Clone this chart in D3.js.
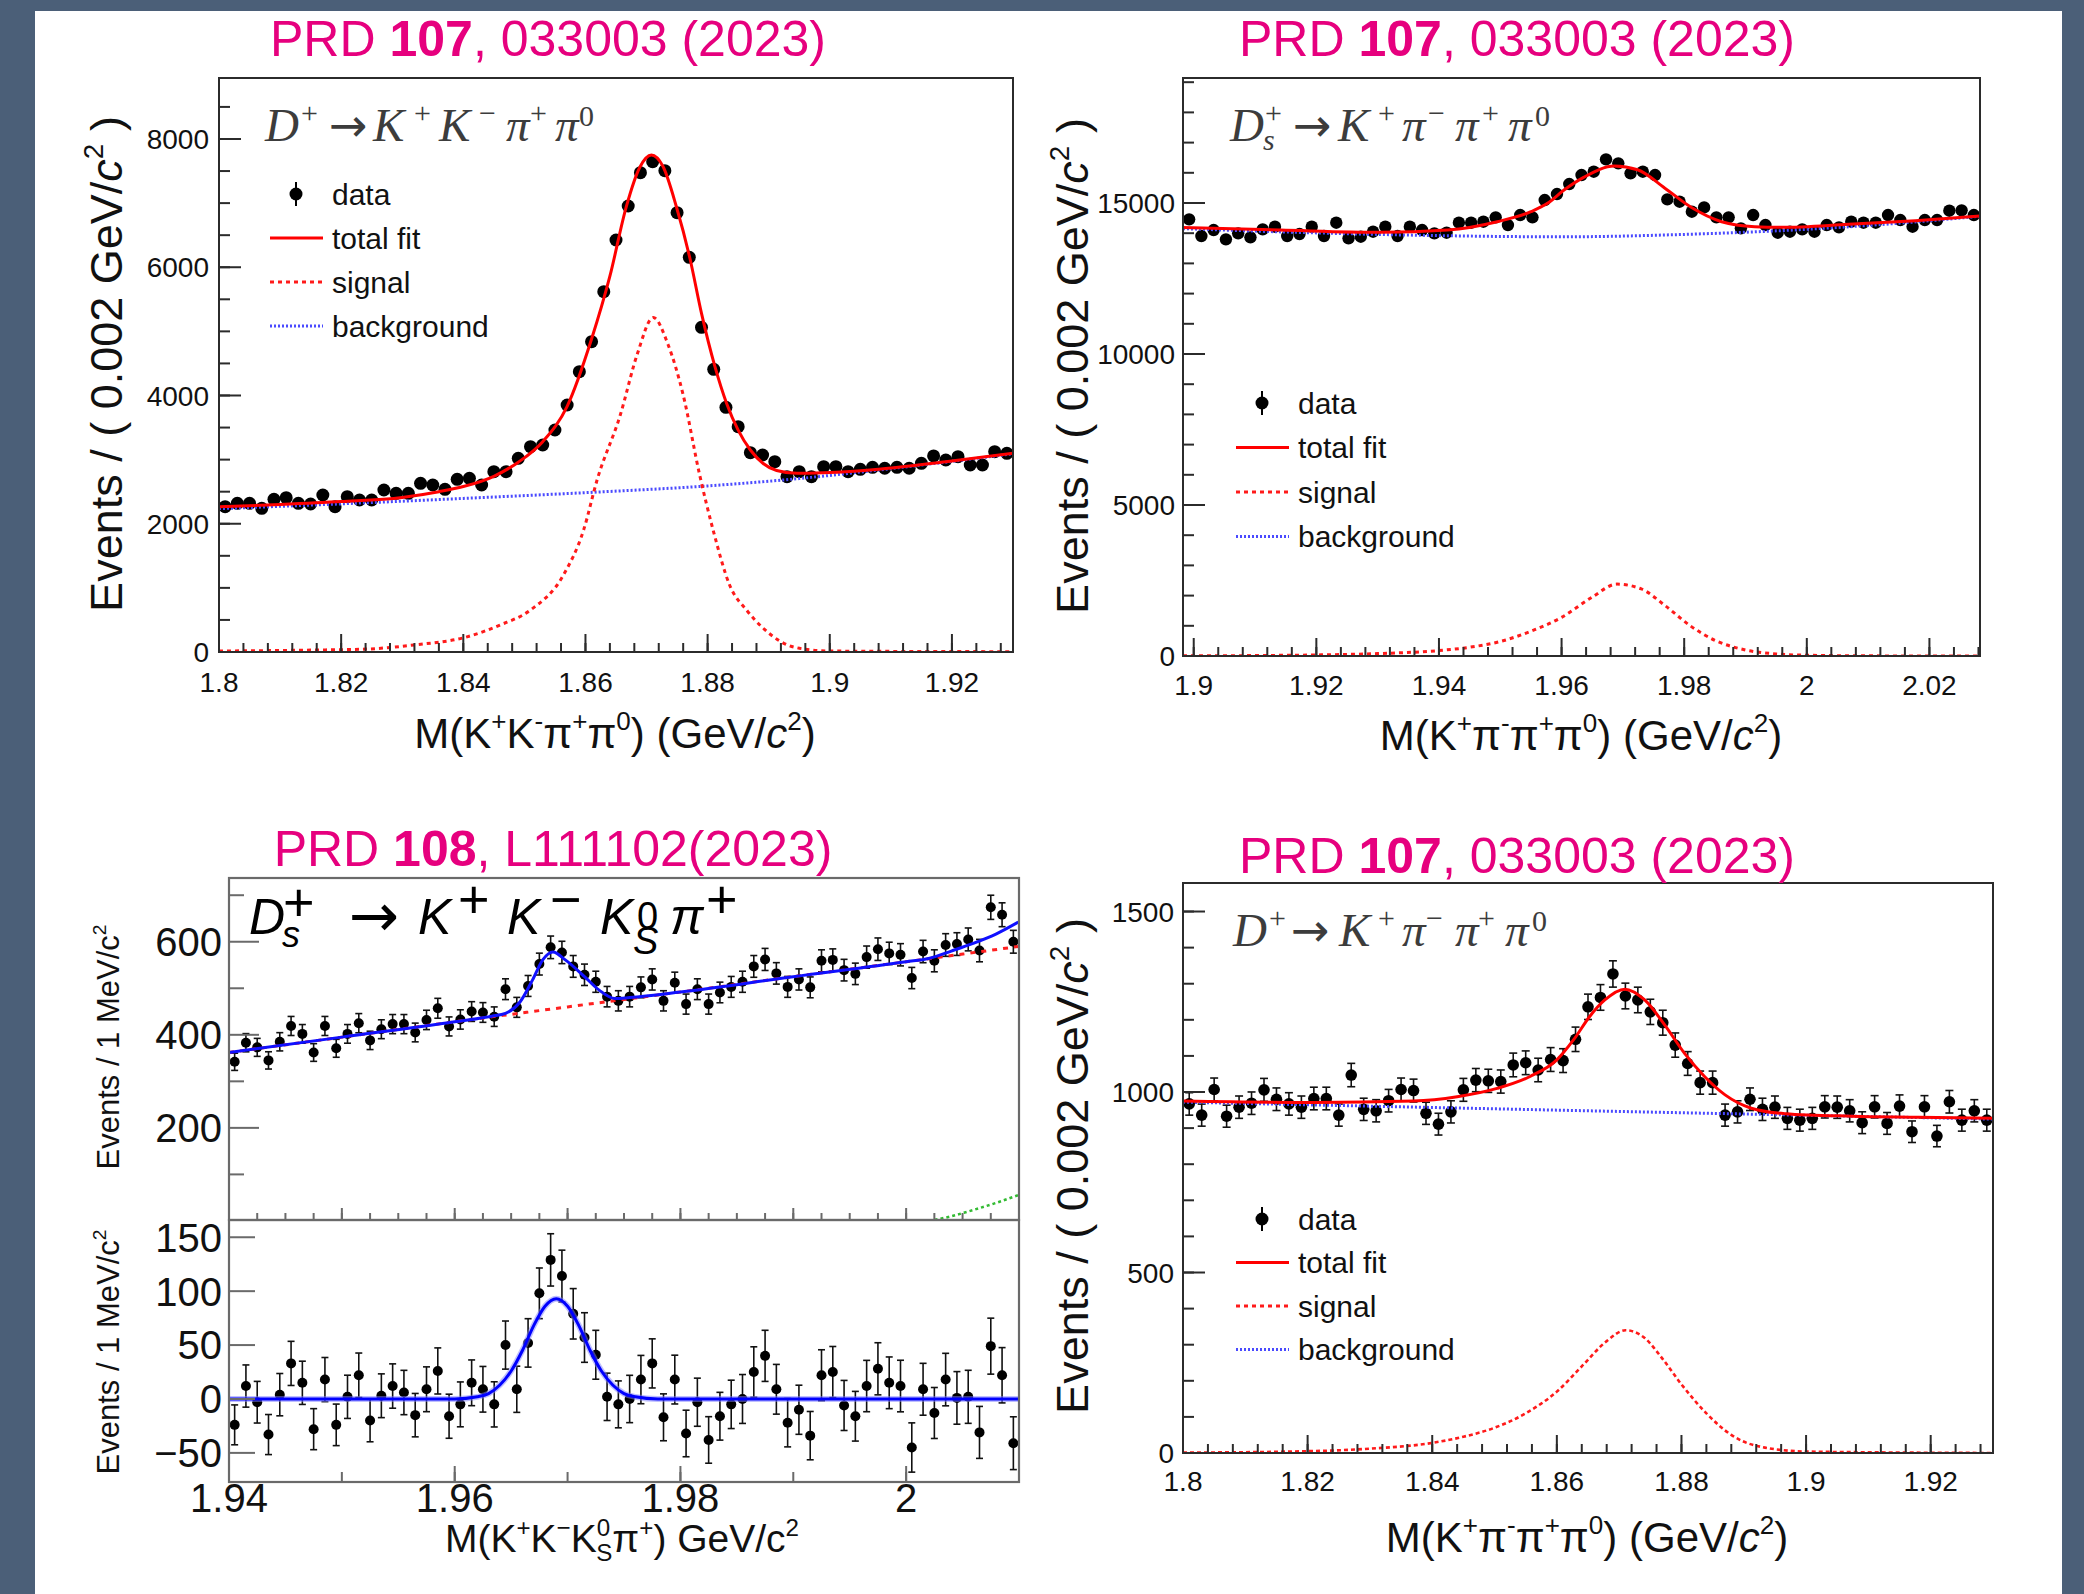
<!DOCTYPE html>
<html>
<head>
<meta charset="utf-8">
<script src="https://cdn.jsdelivr.net/npm/d3@7"></script>
<style>
  body { margin: 0; background: #4b5f78; }
</style>
</head>
<body>
<script>
const W = 2084, H = 1594;
const SANS = "'Liberation Sans', Arial, Helvetica, sans-serif";
const SERIF = "'Liberation Serif', 'Times New Roman', serif";
const ARROW = "'DejaVu Sans', sans-serif";
const PINK = "#e6007e";

// ---------------- DATA ----------------
// top left : D+ -> K+ K- pi+ pi0   (bins of 0.002 GeV from 1.80)
const tlStart = 1.8, tlBin = 0.002;
const tlCounts = [
  2266, 2318, 2318, 2240, 2381, 2407, 2318, 2308, 2448, 2266,
  2422, 2370, 2370, 2526, 2474, 2474, 2630, 2604, 2537, 2693,
  2708, 2604, 2812, 2812, 3020, 3202, 3228, 3462, 3852, 4372,
  4840, 5619, 6425, 6955, 7475, 7646, 7506, 6851, 6155, 5063,
  4408, 3816, 3514, 3108, 3072, 2968, 2734, 2812, 2734, 2890,
  2890, 2812, 2849, 2880, 2865, 2880, 2865, 2942, 3057, 2994,
  3046, 2916, 2916, 3124, 3098
];
const tlTotalFit = [[1.800,2265],[1.810,2300],[1.820,2345],[1.830,2410],[1.836,2500],[1.840,2580],[1.845,2740],[1.849,2960],[1.853,3280],[1.857,3830],[1.861,4880],[1.864,5860],[1.8667,6950],[1.8689,7560],[1.8708,7750],[1.8727,7570],[1.8749,6940],[1.8771,6140],[1.879,5280],[1.8812,4450],[1.8831,3880],[1.885,3460],[1.887,3150],[1.8891,2940],[1.8913,2830],[1.8946,2786],[1.899,2796],[1.908,2850],[1.919,2968],[1.930,3100]];
const tlSignal = [[1.800,15],[1.815,30],[1.824,45],[1.832,110],[1.8402,226],[1.846,420],[1.851,655],[1.8564,1201],[1.8597,1903],[1.8619,2682],[1.8657,3696],[1.8685,4650],[1.8711,5217],[1.8735,4800],[1.876,4008],[1.8787,2760],[1.8809,1903],[1.8836,1045],[1.8865,640],[1.889,380],[1.8944,70],[1.900,15],[1.930,5]];
const tlBackground = [[1.80,2235],[1.82,2310],[1.84,2395],[1.86,2485],[1.88,2590],[1.895,2705],[1.91,2860],[1.93,3090]];
const tlXTicks = [1.8, 1.82, 1.84, 1.86, 1.88, 1.9, 1.92];
const tlYTicks = [0, 2000, 4000, 6000, 8000];

// top right : Ds+ -> K+ pi- pi+ pi0
const trStart = 1.89825, trBin = 0.002;
const trCounts = [
  14458, 13906, 14105, 13796, 13995, 13862, 14127, 14216, 13906, 13972,
  14216, 13906, 14348, 13829, 13884, 14050, 14216, 13906, 14216, 14105,
  13995, 14017, 14348, 14348, 14381, 14524, 14271, 14602, 14524, 15098,
  15297, 15628, 15926, 16036, 16445, 16313, 15981, 16036, 15926, 15120,
  15043, 14712, 14855, 14524, 14524, 14160, 14602, 14271, 14017, 14050,
  14127, 14050, 14271, 14193, 14381, 14348, 14348, 14602, 14436, 14216,
  14436, 14436, 14745, 14756, 14602
];
const trTotalFit = [[1.89825,14190],[1.9141,14105],[1.9305,14028],[1.9414,14105],[1.9495,14381],[1.955,14712],[1.9577,14988],[1.9604,15430],[1.9636,15850],[1.9686,16225],[1.9724,16100],[1.9768,15500],[1.9812,14850],[1.9861,14381],[1.9915,14216],[1.9959,14193],[2.0068,14293],[2.0177,14414],[2.02825,14569]];
const trSignal = [[1.89825,5],[1.91,15],[1.92,35],[1.93,80],[1.94,180],[1.945,290],[1.95,480],[1.955,820],[1.96,1280],[1.965,1950],[1.969,2380],[1.973,2220],[1.977,1650],[1.981,1000],[1.985,520],[1.99,200],[1.995,70],[2.0,25],[2.01,5],[2.02825,0]];
const trBackground = [[1.89825,14150],[1.92,14010],[1.94,13920],[1.96,13880],[1.98,13960],[2.0,14130],[2.015,14330],[2.02825,14560]];
const trXTicks = [1.9, 1.92, 1.94, 1.96, 1.98, 2, 2.02];
const trYTicks = [0, 5000, 10000, 15000];

// bottom right : D+ -> K+ pi- pi+ pi0
const brStart = 1.8, brBin = 0.002;
const brCounts = [
  967, 936, 1007, 933, 958, 969, 1006, 980, 967, 958,
  982, 982, 936, 1047, 952, 948, 976, 1007, 1004, 941,
  911, 945, 1006, 1033, 1031, 1029, 1075, 1081, 1061, 1090,
  1087, 1146, 1236, 1262, 1327, 1266, 1255, 1222, 1192, 1130,
  1079, 1026, 1026, 936, 945, 980, 952, 958, 927, 922,
  927, 959, 958, 948, 915, 959, 913, 961, 890, 959,
  878, 973, 922, 948, 922
];
const brTotalFit = [[1.80,975],[1.8209,971],[1.837,975],[1.844,987],[1.8504,1010],[1.8557,1043],[1.86,1089],[1.8627,1145],[1.8653,1210],[1.8677,1255],[1.8709,1285],[1.8741,1255],[1.8773,1186],[1.8805,1107],[1.8837,1043],[1.887,992],[1.8912,955],[1.8966,940],[1.9073,933],[1.918,930],[1.93,927]];
const brSignal = [[1.80,1],[1.82,5],[1.83,12],[1.84,28],[1.845,45],[1.85,70],[1.855,110],[1.86,170],[1.864,240],[1.868,310],[1.871,340],[1.874,320],[1.877,260],[1.88,190],[1.884,110],[1.888,50],[1.892,20],[1.90,4],[1.93,0]];
const brBackground = [[1.80,972],[1.865,948],[1.93,925]];
const brXTicks = [1.8, 1.82, 1.84, 1.86, 1.88, 1.9, 1.92];
const brYTicks = [0, 500, 1000, 1500];

// bottom left : Ds+ -> K+ K- KS pi+  (1 MeV bins from 1.94)
const blStart = 1.94, blBin = 0.001;
const blCounts = [
  342, 383, 373, 345, 385, 419, 402, 362, 419, 371,
  402, 425, 388, 412, 423, 423, 405, 432, 457, 418,
  433, 450, 448, 439, 498, 459, 505, 552, 588, 577,
  547, 529, 514, 482, 473, 482, 502, 519, 473, 512,
  466, 498, 466, 491, 503, 514, 547, 562, 532, 503,
  519, 502, 559, 561, 539, 531, 567, 584, 575, 572,
  522, 579, 559, 593, 595, 605, 581, 674, 658, 600
];
const blResiduals = [
  -24, 12, -3, -33, 4, 33, 15, -28, 18, -24,
  2, 22, -20, 3, 12, 6, -15, 9, 26, -16,
  -5, 15, 9, -5, 50, 9, 52, 98, 129, 114,
  79, 57, 41, 2, -5, 0, 18, 33, -17, 18,
  -32, -3, -38, -16, -5, 0, 25, 40, 9, -22,
  -10, -34, 22, 25, -6, -16, 12, 28, 15, 12,
  -45, 9, -13, 18, 1, 2, -31, 49, 22, -41
];
const blUpperFit = [[1.94,362],[1.95,395],[1.96,428],[1.9633,440],[1.9645,446],[1.9658,471],[1.9669,518],[1.9678,561],[1.9687,578],[1.9698,561],[1.9715,525],[1.9728,496],[1.9742,478],[1.9755,480],[1.98,492],[1.99,525],[2.0,557],[2.002,564],[2.004,580],[2.006,597],[2.008,617],[2.01,643]];
const blUpperBkg = [[1.94,362],[1.95,395],[1.96,428],[1.97,460],[1.98,492],[1.99,525],[2.0,557],[2.01,590]];
const blPeaking = [[2.002,0],[2.004,10],[2.006,24],[2.008,39],[2.01,56]];
const blLowerFit = [[1.94,0],[1.96,0],[1.962,2],[1.963,5],[1.964,13],[1.965,26],[1.966,45],[1.967,68],[1.968,86],[1.969,93],[1.970,86],[1.971,68],[1.972,45],[1.973,26],[1.974,13],[1.975,5],[1.976,2],[1.978,0],[2.01,0]];
const blXTicks = [1.94, 1.96, 1.98, 2];
const blUpperYTicks = [200, 400, 600];
const blLowerYTicks = [-50, 0, 50, 100, 150];

const titles = [
  { x: 548, y: 56, pre: "PRD ", vol: "107", post: ", 033003 (2023)" },
  { x: 1517, y: 56, pre: "PRD ", vol: "107", post: ", 033003 (2023)" },
  { x: 553, y: 866, pre: "PRD ", vol: "108", post: ", L111102(2023)" },
  { x: 1517, y: 873, pre: "PRD ", vol: "107", post: ", 033003 (2023)" }
];

// ---------------- DRAWING ----------------
const svg = d3.select("body").append("svg")
  .attr("width", W).attr("height", H)
  .style("display", "block");
const defs = svg.append("defs");

svg.append("rect").attr("width", W).attr("height", H).attr("fill", "#4b5f78");
svg.append("rect").attr("x", 35).attr("y", 11).attr("width", 2027).attr("height", H - 11).attr("fill", "#ffffff");

function range(a, b, step) {
  const n = Math.round((b - a) / step);
  return d3.range(0, n + 1).map(k => +(a + k * step).toFixed(6));
}

// rich text with sup / sub pieces
function rich(sel, segs, base) {
  let shift = 0;
  segs.forEach(s => {
    const ts = sel.append("tspan").text(s.t);
    const target = s.sup ? -base * 0.42 : (s.sub ? base * 0.22 : 0);
    if (target - shift !== 0) ts.attr("dy", target - shift);
    shift = target;
    if (s.sup || s.sub) ts.attr("font-size", base * (s.scale || 0.62));
    if (s.it) ts.attr("font-style", "italic");
    if (s.bold) ts.attr("font-weight", "bold");
    if (s.dx) ts.attr("dx", s.dx);
  });
}

function makePanel(cfg) {
  const x = d3.scaleLinear().domain(cfg.xDomain).range([cfg.left, cfg.right]);
  const y = d3.scaleLinear().domain(cfg.yDomain).range([cfg.bottom, cfg.top]);
  const clipId = "clip-" + cfg.id;
  defs.append("clipPath").attr("id", clipId).append("rect")
    .attr("x", cfg.left).attr("y", cfg.top)
    .attr("width", cfg.right - cfg.left).attr("height", cfg.bottom - cfg.top);
  const g = svg.append("g");
  const plot = g.append("g").attr("clip-path", `url(#${clipId})`);
  return { x, y, g, plot, cfg };
}

function drawFrame(p, color, width) {
  const c = p.cfg;
  p.g.append("rect")
    .attr("x", c.left).attr("y", c.top)
    .attr("width", c.right - c.left).attr("height", c.bottom - c.top)
    .attr("fill", "none").attr("stroke", color).attr("stroke-width", width);
}

function xTicks(p, values, len, yPos, color, width) {
  p.g.selectAll(null).data(values).enter().append("line")
    .attr("x1", d => p.x(d)).attr("x2", d => p.x(d))
    .attr("y1", yPos).attr("y2", yPos - len)
    .attr("stroke", color).attr("stroke-width", width);
}

function yTicks(p, values, len, color, width) {
  p.g.selectAll(null).data(values).enter().append("line")
    .attr("x1", p.cfg.left).attr("x2", p.cfg.left + len)
    .attr("y1", d => p.y(d)).attr("y2", d => p.y(d))
    .attr("stroke", color).attr("stroke-width", width);
}

function xLabels(p, values, baseline, size, fmt) {
  p.g.selectAll(null).data(values).enter().append("text")
    .attr("x", d => p.x(d)).attr("y", baseline)
    .attr("text-anchor", "middle")
    .attr("font-family", SANS).attr("font-size", size).attr("fill", "#111")
    .text(fmt || (d => String(d)));
}

function yLabels(p, values, right, size, fmt) {
  p.g.selectAll(null).data(values).enter().append("text")
    .attr("x", right).attr("y", d => p.y(d))
    .attr("dy", "0.36em")
    .attr("text-anchor", "end")
    .attr("font-family", SANS).attr("font-size", size).attr("fill", "#111")
    .text(fmt || (d => String(d)));
}

function curve(p, pts, color, width, dash) {
  const line = d3.line()
    .x(d => p.x(d[0])).y(d => p.y(d[1]))
    .curve(d3.curveMonotoneX);
  const path = p.plot.append("path").datum(pts)
    .attr("d", line).attr("fill", "none")
    .attr("stroke", color).attr("stroke-width", width)
    .attr("stroke-linejoin", "round");
  if (dash) path.attr("stroke-dasharray", dash);
  return path;
}

function points(p, counts, start, bin, r, errs, cap) {
  const data = counts.map((v, i) => ({
    m: start + bin * (i + 0.5), v: v, e: errs ? errs[i] : Math.sqrt(v)
  }));
  const gp = p.plot.append("g");
  gp.selectAll(null).data(data).enter().append("line")
    .attr("x1", d => p.x(d.m)).attr("x2", d => p.x(d.m))
    .attr("y1", d => p.y(d.v - d.e)).attr("y2", d => p.y(d.v + d.e))
    .attr("stroke", "#111").attr("stroke-width", 1.6);
  if (cap) {
    ["lo", "hi"].forEach(k => {
      gp.selectAll(null).data(data).enter().append("line")
        .attr("x1", d => p.x(d.m) - cap).attr("x2", d => p.x(d.m) + cap)
        .attr("y1", d => p.y(k === "lo" ? d.v - d.e : d.v + d.e))
        .attr("y2", d => p.y(k === "lo" ? d.v - d.e : d.v + d.e))
        .attr("stroke", "#111").attr("stroke-width", 1.6);
    });
  }
  gp.selectAll(null).data(data).enter().append("circle")
    .attr("cx", d => p.x(d.m)).attr("cy", d => p.y(d.v)).attr("r", r)
    .attr("fill", "#000");
}

function yTitle(x, y, size, segs) {
  const t = svg.append("text")
    .attr("transform", `translate(${x},${y}) rotate(-90)`)
    .attr("text-anchor", "middle")
    .attr("font-family", SANS).attr("font-size", size).attr("fill", "#111");
  rich(t, segs, size);
}

function xTitle(x, y, size, segs) {
  const t = svg.append("text")
    .attr("x", x).attr("y", y)
    .attr("text-anchor", "middle")
    .attr("font-family", SANS).attr("font-size", size).attr("fill", "#111");
  rich(t, segs, size);
}

// each piece: [text, dx, dy, size, italic, family]
function pieces(x0, y0, list, family, color) {
  list.forEach(q => {
    svg.append("text")
      .attr("x", x0 + q[1]).attr("y", y0 + q[2])
      .attr("font-family", q[5] || family).attr("font-size", q[3])
      .attr("font-style", q[4] ? "italic" : "normal")
      .attr("fill", color)
      .text(q[0]);
  });
}

function legend(x0, y0, dy) {
  const g = svg.append("g");
  const rows = [
    { label: "data" },
    { label: "total fit", color: "#ff0000", dash: null, w: 3 },
    { label: "signal", color: "#ff1a1a", dash: "4,4", w: 3 },
    { label: "background", color: "#4a4aff", dash: "2,2", w: 3 }
  ];
  rows.forEach((r, i) => {
    const yy = y0 + i * dy;
    if (i === 0) {
      g.append("line").attr("x1", x0 + 26).attr("x2", x0 + 26)
        .attr("y1", yy - 12).attr("y2", yy + 12).attr("stroke", "#000").attr("stroke-width", 2);
      g.append("circle").attr("cx", x0 + 26).attr("cy", yy).attr("r", 6.5).attr("fill", "#000");
    } else {
      const l = g.append("line").attr("x1", x0).attr("x2", x0 + 53)
        .attr("y1", yy).attr("y2", yy)
        .attr("stroke", r.color).attr("stroke-width", r.w);
      if (r.dash) l.attr("stroke-dasharray", r.dash);
    }
    g.append("text").attr("x", x0 + 62).attr("y", yy).attr("dy", "0.36em")
      .attr("font-family", SANS).attr("font-size", 30).attr("fill", "#111")
      .text(r.label);
  });
}

const FRAME = "#2b2b2b";

// ---------- top left ----------
{
  const p = makePanel({ id: "tl", left: 219, right: 1013, top: 78, bottom: 652, xDomain: [1.8, 1.93], yDomain: [0, 8951] });
  points(p, tlCounts, tlStart, tlBin, 6.5, null, 0);
  curve(p, tlBackground, "#4a4aff", 3, "2,2");
  curve(p, tlSignal, "#ff1a1a", 3, "4,4");
  curve(p, tlTotalFit, "#ff0000", 3);
  drawFrame(p, FRAME, 2);
  xTicks(p, range(1.8, 1.928, 0.004), 9, 652, FRAME, 2);
  xTicks(p, tlXTicks, 18, 652, FRAME, 2);
  yTicks(p, range(0, 8500, 500), 11, FRAME, 2);
  yTicks(p, tlYTicks, 22, FRAME, 2);
  xLabels(p, tlXTicks, 692, 28);
  yLabels(p, tlYTicks, 209, 28);
}

// ---------- top right ----------
{
  const p = makePanel({ id: "tr", left: 1183, right: 1980, top: 78, bottom: 656, xDomain: [trStart, 2.02825], yDomain: [0, 19139] });
  points(p, trCounts, trStart, trBin, 6.2, null, 0);
  curve(p, trBackground, "#4a4aff", 3, "2,2");
  curve(p, trSignal, "#ff1a1a", 3, "4,4");
  curve(p, trTotalFit, "#ff0000", 3);
  drawFrame(p, FRAME, 2);
  xTicks(p, range(1.9, 2.028, 0.004), 9, 656, FRAME, 2);
  xTicks(p, trXTicks, 18, 656, FRAME, 2);
  yTicks(p, range(0, 19000, 1000), 11, FRAME, 2);
  yTicks(p, trYTicks, 22, FRAME, 2);
  xLabels(p, trXTicks, 695, 28);
  yLabels(p, trYTicks, 1175, 28);
}

// ---------- bottom right ----------
{
  const p = makePanel({ id: "br", left: 1183, right: 1993, top: 883, bottom: 1453, xDomain: [1.8, 1.93], yDomain: [0, 1579] });
  points(p, brCounts, brStart, brBin, 5.8, null, 4);
  curve(p, brBackground, "#4a4aff", 3, "2,2");
  curve(p, brSignal, "#ff1a1a", 2.6, "4,3");
  curve(p, brTotalFit, "#ff0000", 3);
  drawFrame(p, FRAME, 2);
  xTicks(p, range(1.8, 1.928, 0.004), 9, 1453, FRAME, 2);
  xTicks(p, brXTicks, 18, 1453, FRAME, 2);
  yTicks(p, range(0, 1500, 100), 11, FRAME, 2);
  yTicks(p, brYTicks, 22, FRAME, 2);
  xLabels(p, brXTicks, 1491, 28);
  yLabels(p, brYTicks, 1174, 28);
}

// ---------- bottom left (two pads) ----------
{
  const BLF = "#6a6a6a";
  const up = makePanel({ id: "blu", left: 229, right: 1019, top: 878, bottom: 1220, xDomain: [1.94, 2.01], yDomain: [2, 737] });
  const lo = makePanel({ id: "bll", left: 229, right: 1019, top: 1220, bottom: 1482, xDomain: [1.94, 2.01], yDomain: [-77, 166] });

  points(up, blCounts, blStart, blBin, 5, null, 3.5);
  curve(up, blPeaking, "#33bb33", 2.5, "3,3");
  curve(up, blUpperBkg, "#ff2020", 3, "5,6");
  curve(up, blUpperFit, "#1010ff", 3);

  points(lo, blResiduals, blStart, blBin, 5, blCounts.map(Math.sqrt), 3.5);
  curve(lo, blLowerFit, "#8080ff", 6).attr("opacity", 0.5);
  curve(lo, blLowerFit, "#0000ff", 3);

  drawFrame(up, BLF, 2.2);
  drawFrame(lo, BLF, 2.2);
  xTicks(up, range(1.94, 2.01, 0.0025), 7, 1220, BLF, 2);
  xTicks(up, range(1.94, 2.01, 0.01), 12, 1220, BLF, 2);
  xTicks(lo, range(1.94, 2.01, 0.01), 10, 1482, BLF, 2);
  xTicks(lo, blXTicks, 16, 1482, BLF, 2);
  yTicks(up, [100, 300, 500, 700], 15, BLF, 2);
  yTicks(up, blUpperYTicks, 30, BLF, 2);
  yTicks(lo, blLowerYTicks, 26, BLF, 2);
  xLabels(lo, blXTicks, 1512, 40);
  yLabels(up, blUpperYTicks, 222, 40);
  yLabels(lo, blLowerYTicks, 222, 40, d => d < 0 ? "\u2212" + Math.abs(d) : String(d));
}

// ---------- titles ----------
titles.forEach(t => {
  const tx = svg.append("text").attr("x", t.x).attr("y", t.y)
    .attr("text-anchor", "middle")
    .attr("font-family", SANS).attr("font-size", 50).attr("fill", PINK);
  tx.append("tspan").text(t.pre);
  tx.append("tspan").attr("font-weight", "bold").text(t.vol);
  tx.append("tspan").text(t.post);
});

// ---------- axis titles ----------
const evTitle = [{ t: "Events / ( 0.002 GeV/" }, { t: "c", it: true }, { t: "2", sup: true }, { t: " )" }];
yTitle(122, 364, 45, evTitle);
yTitle(1088, 366, 45, evTitle);
yTitle(1088, 1166, 45, evTitle);
yTitle(119, 1047, 31, [{ t: "Events / 1 MeV/c" }, { t: "2", sup: true }]);
yTitle(119, 1352, 31, [{ t: "Events / 1 MeV/c" }, { t: "2", sup: true }]);

xTitle(615, 748, 42, [{ t: "M(K" }, { t: "+", sup: true }, { t: "K" }, { t: "-", sup: true }, { t: "\u03c0" }, { t: "+", sup: true }, { t: "\u03c0" }, { t: "0", sup: true }, { t: ") (GeV/" }, { t: "c", it: true }, { t: "2", sup: true }, { t: ")" }]);
xTitle(1581, 750, 42, [{ t: "M(K" }, { t: "+", sup: true }, { t: "\u03c0" }, { t: "-", sup: true }, { t: "\u03c0" }, { t: "+", sup: true }, { t: "\u03c0" }, { t: "0", sup: true }, { t: ") (GeV/" }, { t: "c", it: true }, { t: "2", sup: true }, { t: ")" }]);
xTitle(1587, 1552, 42, [{ t: "M(K" }, { t: "+", sup: true }, { t: "\u03c0" }, { t: "-", sup: true }, { t: "\u03c0" }, { t: "+", sup: true }, { t: "\u03c0" }, { t: "0", sup: true }, { t: ") (GeV/" }, { t: "c", it: true }, { t: "2", sup: true }, { t: ")" }]);
xTitle(622, 1552, 39, [{ t: "M(K" }, { t: "+", sup: true }, { t: "K" }, { t: "\u2212", sup: true }, { t: "K" }, { t: "0", sup: true }, { t: "S", sub: true, dx: -14 }, { t: "\u03c0" }, { t: "+", sup: true }, { t: ") GeV/c" }, { t: "2", sup: true }]);

// ---------- decay labels ----------
const L = 47, S = 30, A = 46;
const dKKpp = [["D",0,0,L,1],["+",36,-18,S,0],["\u2192",64,0,A,0,ARROW],["K",108,0,L,1],["+",149,-18,S,0],["K",174,0,L,1],["\u2212",214,-18,S,0],["\u03c0",241,0,L,1],["+",265,-18,S,0],["\u03c0",290,0,L,1],["0",314,-15,S,0]];
const dKppp = [["D",0,0,L,1],["+",36,-18,S,0],["\u2192",58,0,A,0,ARROW],["K",106,0,L,1],["+",145,-18,S,0],["\u03c0",169,0,L,1],["\u2212",193,-18,S,0],["\u03c0",222,0,L,1],["+",245,-18,S,0],["\u03c0",272,0,L,1],["0",299,-15,S,0]];
const dsKppp = [["D",0,0,L,1],["s",33,9,S,1],["+",35,-18,S,0],["\u2192",63,0,A,0,ARROW],["K",108,0,L,1],["+",148,-18,S,0],["\u03c0",172,0,L,1],["\u2212",198,-18,S,0],["\u03c0",225,0,L,1],["+",252,-18,S,0],["\u03c0",278,0,L,1],["0",305,-15,S,0]];
pieces(265, 141, dKKpp, SERIF, "#3c3c3c");
pieces(1230, 141, dsKppp, SERIF, "#3c3c3c");
pieces(1233, 946, dKppp, SERIF, "#3c3c3c");
pieces(249, 934, [["D",0,0,50,1],["s",33,13,36,1],["+",34,-13,54,0],["\u2192",100,2,60,0,ARROW],["K",169,0,50,1],["+",209,-16,54,0],["K",258,0,50,1],["\u2212",301,-16,54,0],["K",351,0,50,1],["0",388,-5,38,0],["S",384,20,38,1],["\u03c0",421,0,50,1],["+",457,-16,54,0]], SANS, "#000");

// ---------- legends ----------
legend(270, 194, 44);
legend(1236, 403, 44.5);
legend(1236, 1219, 43.5);
</script>
</body>
</html>
